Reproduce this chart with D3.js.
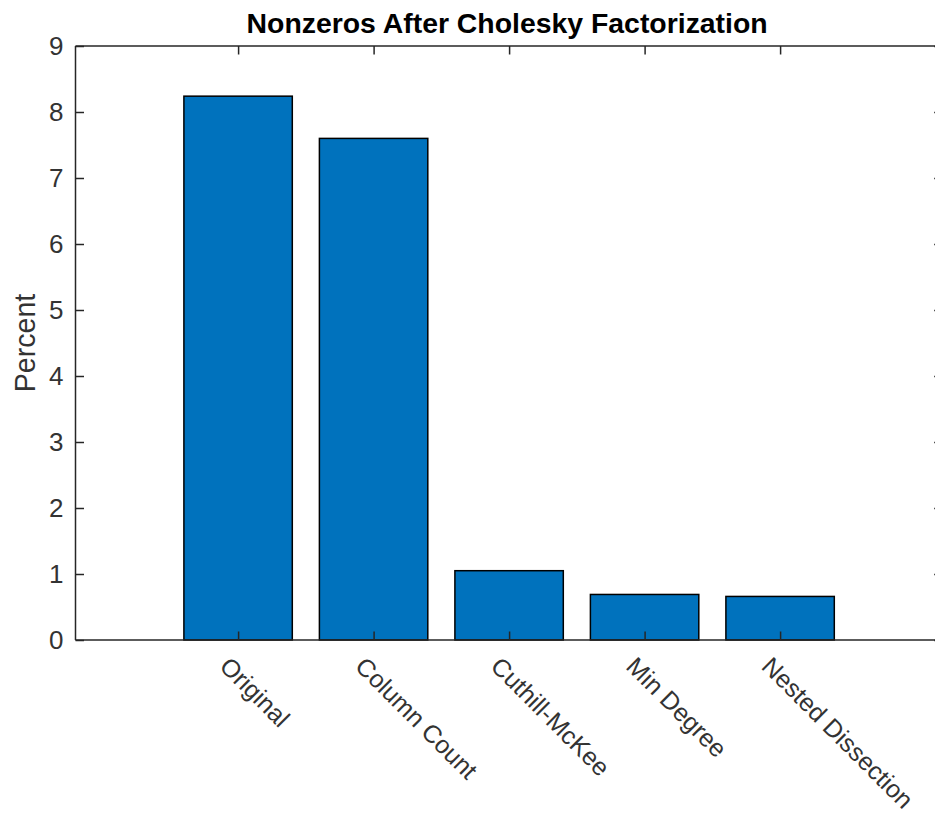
<!DOCTYPE html>
<html>
<head>
<meta charset="utf-8">
<script src="https://cdn.jsdelivr.net/npm/d3@7"></script>
<style>
  body { margin: 0; background: #fff; }
  svg text { font-family: "Liberation Sans", Arial, sans-serif; }
</style>
</head>
<body>
<div id="canvas"></div>
<script>
"use strict"

// data
let categories = ["Original", "Column Count", "Cuthill-McKee", "Min Degree", "Nested Dissection"]
let percents = [8.24, 7.60, 1.05, 0.69, 0.66]
let yTicks = [0, 1, 2, 3, 4, 5, 6, 7, 8, 9]

let width = 935
let height = 823

/* plot box (the right edge runs a little past the window, like the reference) */
let plotLeft = 75.5
let plotRight = 942.7
let plotTop = 46
let plotBottom = 640
let tickLen = 8.5
let axisColor = "#262626"

let drawing = d3.select("#canvas")
    .append("svg")
    .attr("width", width)
    .attr("height", height)

let x = d3.scaleLinear()
    .domain([-0.2, 6.2])
    .range([plotLeft, plotRight])

let y = d3.scaleLinear()
    .domain([0, 9])
    .range([plotBottom, plotTop])

let step = x(2) - x(1)
let barW = step * 0.8

/* bars */
drawing.append("g")
    .selectAll("rect")
    .data(percents)
    .join("rect")
    .attr("x", (d, i) => x(i + 1) - barW / 2)
    .attr("y", d => y(d))
    .attr("width", barW)
    .attr("height", d => y(0) - y(d))
    .attr("fill", "#0072BD")
    .attr("stroke", "#000")
    .attr("stroke-width", 1.5)

/* axes: left/bottom with labels, top/right just inward ticks */
let yLeft = drawing.append("g")
    .attr("transform", `translate(${plotLeft},0)`)
    .call(d3.axisLeft(y).tickValues(yTicks).tickSize(-tickLen).tickPadding(12).tickFormat(d3.format("d")))

let yRight = drawing.append("g")
    .attr("transform", `translate(${plotRight},0)`)
    .call(d3.axisRight(y).tickValues(yTicks).tickSize(-tickLen).tickFormat(""))

let xBottom = drawing.append("g")
    .attr("transform", `translate(0,${plotBottom})`)
    .call(d3.axisBottom(x).tickValues([1, 2, 3, 4, 5]).tickSize(-tickLen).tickFormat(""))

let xTop = drawing.append("g")
    .attr("transform", `translate(0,${plotTop})`)
    .call(d3.axisTop(x).tickValues([1, 2, 3, 4, 5]).tickSize(-tickLen).tickFormat(""))

for (let g of [yLeft, yRight, xBottom, xTop]) {
    g.select(".domain").attr("stroke", axisColor).attr("stroke-width", 1.5)
    g.selectAll(".tick line").attr("stroke", axisColor).attr("stroke-width", 1.5)
}
// drop the outer ticks of the domain path
yLeft.select(".domain").attr("d", `M0,${plotTop}V${plotBottom}`)
yRight.select(".domain").attr("d", `M0,${plotTop}V${plotBottom}`)
xBottom.select(".domain").attr("d", `M${plotLeft},0H${plotRight}`)
xTop.select(".domain").attr("d", `M${plotLeft},0H${plotRight}`)

yLeft.selectAll(".tick text")
    .attr("fill", "#333")
    .attr("font-size", 26)
    .attr("font-family", "Liberation Sans, Arial, sans-serif")

/* slanted category labels */
drawing.append("g")
    .selectAll("text")
    .data(categories)
    .join("text")
    .attr("transform", (d, i) => `translate(${x(i + 1) - 7},655) rotate(45)`)
    .attr("text-anchor", "start")
    .attr("dy", "0.72em")
    .attr("font-size", 25)
    .attr("fill", "#333")
    .text(d => d)

/* y label */
drawing.append("text")
    .attr("transform", `translate(25,${(plotTop + plotBottom) / 2}) rotate(-90)`)
    .attr("text-anchor", "middle")
    .attr("dy", "0.36em")
    .attr("font-size", 28.6)
    .attr("fill", "#333")
    .text("Percent")

/* title */
drawing.append("text")
    .attr("x", (plotLeft + plotRight) / 2 - 2)
    .attr("y", 33)
    .attr("text-anchor", "middle")
    .attr("font-size", 28.4)
    .attr("font-weight", "bold")
    .attr("fill", "#000")
    .text("Nonzeros After Cholesky Factorization")
</script>
</body>
</html>
